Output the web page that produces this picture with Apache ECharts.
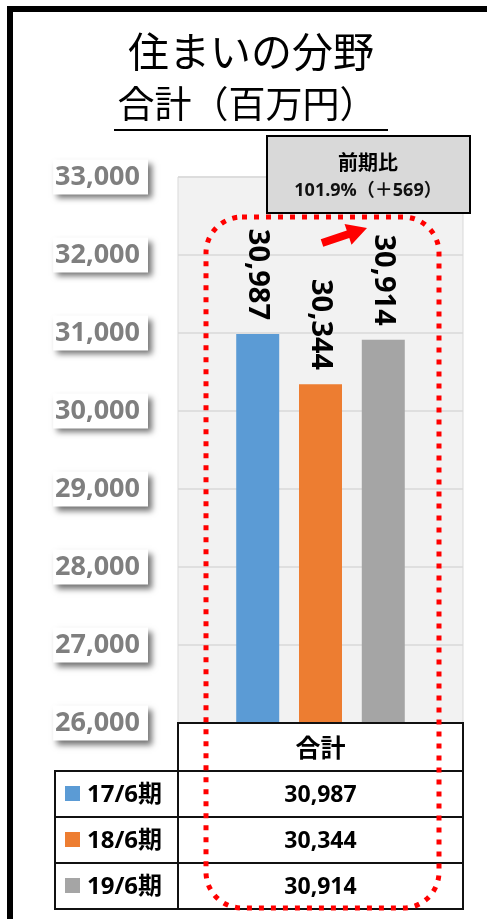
<!DOCTYPE html>
<html><head><meta charset="utf-8">
<script src="https://cdn.jsdelivr.net/npm/echarts@6/dist/echarts.min.js"></script>
<style>html,body{margin:0;padding:0;background:#fff}#c{width:487px;height:919px}</style>
</head><body><div id="c"></div>
<script>
// ---- data ----
const categories = ['合計'];
const periods = ['17/6期', '18/6期', '19/6期'];
const values = [30987, 30344, 30914];
const colors = ['#5b9bd5', '#ed7d31', '#a5a5a5'];
const yMin = 26000, yMax = 33000, yStep = 1000;
const titleLine1 = '住まいの分野';
const titleLine2 = '合計（百万円）';
const compareHead = '前期比';
const compareBody = '101.9%（＋569）';

const fmt = v => v.toLocaleString('en-US');
const NUM = "'Open Sans','Noto Sans CJK JP',sans-serif";
const JP = "'Noto Sans CJK JP',sans-serif";

// ---- layout ----
const G = { left: 178, right: 24, top: 177, bottom: 196 };
const plotL = 178, plotR = 463, plotB = 723;
const colL = 55, rowH = 46, headH = 48;

function arrow(x1, y1, x2, y2, sw, hl, hw) {
  const dx = x2 - x1, dy = y2 - y1, L = Math.hypot(dx, dy);
  const ux = dx / L, uy = dy / L, nx = -uy, ny = ux;
  const bx = x2 - ux * hl, by = y2 - uy * hl;
  return [
    [x1 + nx * sw / 2, y1 + ny * sw / 2], [bx + nx * sw / 2, by + ny * sw / 2],
    [bx + nx * hw / 2, by + ny * hw / 2], [x2, y2],
    [bx - nx * hw / 2, by - ny * hw / 2], [bx - nx * sw / 2, by - ny * sw / 2],
    [x1 - nx * sw / 2, y1 - ny * sw / 2]
  ];
}

const graphics = [];
// outer frame
graphics.push({ type: 'rect', shape: { x: 10, y: 9, width: 520, height: 960 },
  style: { fill: 'none', stroke: '#000', lineWidth: 6 }, z: 50 });
// title
graphics.push({ type: 'text', x: 251, y: 51, style: { text: titleLine1, font: `41px ${JP}`,
  fill: '#000', align: 'center', verticalAlign: 'middle' }, z: 50 });
graphics.push({ type: 'text', x: 247, y: 104, style: { text: titleLine2, font: `37px ${JP}`,
  fill: '#000', align: 'center', verticalAlign: 'middle' }, z: 50 });
graphics.push({ type: 'line', shape: { x1: 114, y1: 130, x2: 388, y2: 130 },
  style: { stroke: '#000', lineWidth: 2 }, z: 50 });

// table header
graphics.push({ type: 'rect', shape: { x: plotL, y: plotB, width: plotR - plotL, height: headH },
  style: { fill: '#fff', stroke: '#111', lineWidth: 2 }, z: 40 });
graphics.push({ type: 'text', x: (plotL + plotR) / 2, y: plotB + headH / 2,
  style: { text: categories[0], font: `bold 25px ${JP}`, fill: '#000', align: 'center', verticalAlign: 'middle' }, z: 41 });
periods.forEach((p, i) => {
  const y = plotB + headH + i * rowH;
  graphics.push({ type: 'rect', shape: { x: colL, y, width: plotL - colL, height: rowH },
    style: { fill: '#fff', stroke: '#111', lineWidth: 2 }, z: 40 });
  graphics.push({ type: 'rect', shape: { x: plotL, y, width: plotR - plotL, height: rowH },
    style: { fill: '#fff', stroke: '#111', lineWidth: 2 }, z: 40 });
  graphics.push({ type: 'rect', shape: { x: 65, y: y + rowH / 2 - 8, width: 15, height: 15 },
    style: { fill: colors[i] }, z: 41 });
  graphics.push({ type: 'text', x: 87, y: y + rowH / 2 + 1,
    style: { text: p, font: `bold 24px ${NUM}`, fill: '#000', align: 'left', verticalAlign: 'middle' }, z: 41 });
  graphics.push({ type: 'text', x: (plotL + plotR) / 2, y: y + rowH / 2 + 1,
    style: { text: fmt(values[i]), font: `bold 23px ${NUM}`, fill: '#000', align: 'center', verticalAlign: 'middle' }, z: 41 });
});

// comparison box
graphics.push({ type: 'rect', shape: { x: 267, y: 136, width: 203, height: 77 },
  style: { fill: '#d9d9d9', stroke: '#000', lineWidth: 2 }, z: 60 });
graphics.push({ type: 'text', x: 368, y: 162, style: { text: compareHead, font: `bold 20px ${JP}`,
  fill: '#000', align: 'center', verticalAlign: 'middle' }, z: 61 });
graphics.push({ type: 'text', x: 368, y: 191, style: { text: compareBody, font: `bold 18px ${NUM}`,
  fill: '#111', align: 'center', verticalAlign: 'middle' }, z: 61 });

// red arrow
graphics.push({ type: 'polygon', shape: { points: arrow(322, 243, 367, 228, 8, 20, 22) },
  style: { fill: '#ff0000' }, z: 60 });

// red dotted rounded rect
graphics.push({ type: 'rect', shape: { x: 206, y: 217, width: 233, height: 691, r: 36 },
  style: { fill: 'none', stroke: '#ff0000', lineWidth: 5, lineDash: [5, 7] }, z: 70 });

const chart = echarts.init(document.getElementById('c'), null, { renderer: 'canvas' });
chart.setOption({
  animation: false,
  backgroundColor: '#fff',
  grid: { ...G, show: true, backgroundColor: '#f2f2f2', borderColor: '#d9d9d9', borderWidth: 1 },
  xAxis: { type: 'category', data: categories, axisLine: { show: false }, axisTick: { show: false },
    axisLabel: { show: false }, splitLine: { show: false } },
  yAxis: { type: 'value', min: yMin, max: yMax, interval: yStep,
    axisLine: { show: false }, axisTick: { show: false },
    splitLine: { lineStyle: { color: '#d9d9d9', width: 1.5 } },
    axisLabel: { margin: 30, formatter: v => fmt(v), color: '#7f7f7f', fontWeight: 'bold', fontSize: 27,
      fontFamily: NUM, backgroundColor: '#fff', padding: [5, 8, 3, 2],
      shadowColor: 'rgba(0,0,0,0.55)', shadowBlur: 6, shadowOffsetX: 4, shadowOffsetY: 4 } },
  series: periods.map((p, i) => ({
    name: p, type: 'bar', data: [values[i]], barWidth: 43, barGap: '46%',
    itemStyle: { color: colors[i] },
    label: { show: true, position: 'top', rotate: -90, align: 'right', verticalAlign: 'middle',
      distance: 14, formatter: d => fmt(d.value), fontSize: 29, fontWeight: 'bold', fontFamily: NUM, color: '#000' }
  })),
  graphic: graphics
});
</script></body></html>
